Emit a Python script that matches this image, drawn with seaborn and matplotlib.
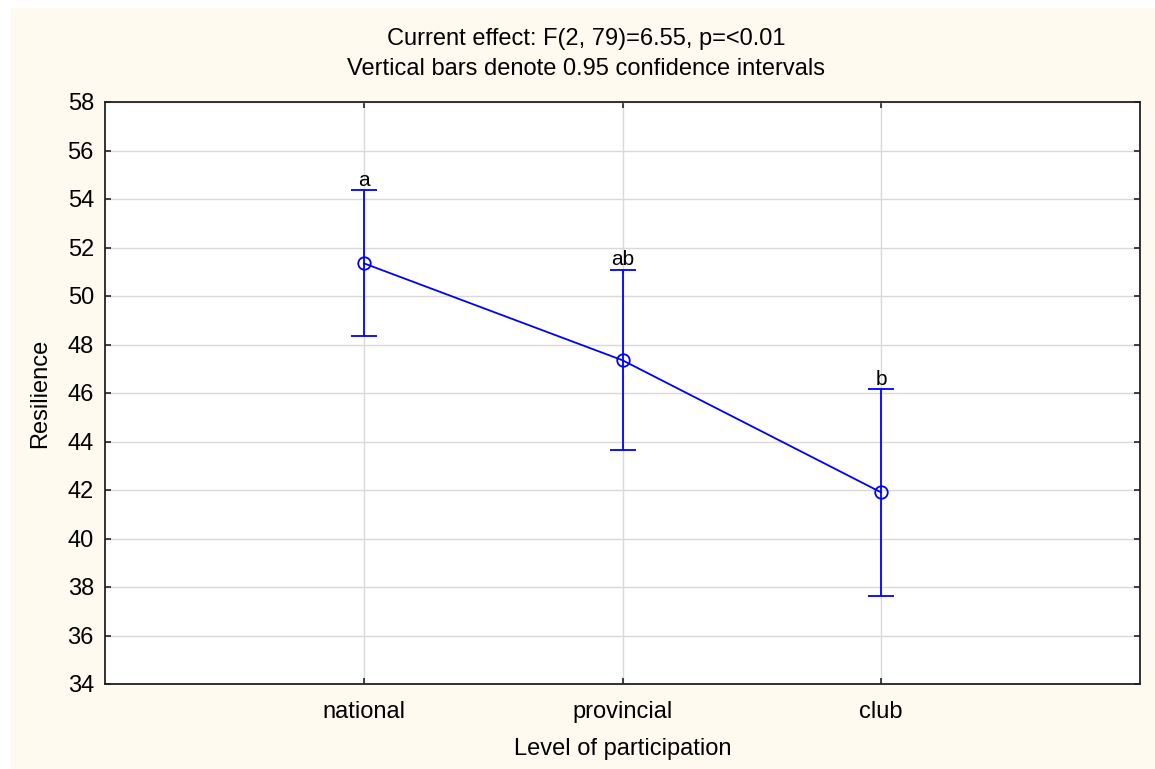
import matplotlib
matplotlib.use('Agg')
import matplotlib.pyplot as plt
import seaborn as sns
from matplotlib.patches import Rectangle

# --- data ---
levels = ['national', 'provincial', 'club']
means = [51.35, 47.35, 41.9]
ci_low = [48.33, 43.65, 37.62]
ci_high = [54.37, 51.08, 46.15]
groups = ['a', 'ab', 'b']
title = 'Current effect: F(2, 79)=6.55, p=<0.01\nVertical bars denote 0.95 confidence intervals'

sns.set_style('white')
plt.rcParams['font.family'] = ['Liberation Sans', 'DejaVu Sans']
plt.rcParams['text.color'] = 'black'
plt.rcParams['axes.labelcolor'] = 'black'
plt.rcParams['xtick.color'] = 'black'
plt.rcParams['ytick.color'] = 'black'

fig = plt.figure(figsize=(11.55, 7.69), dpi=100, facecolor='white')
# cream panel behind the plot
fig.patches.append(Rectangle((11 / 1155, 0), 1 - 11 / 1155, 1 - 8 / 769,
                             transform=fig.transFigure, facecolor='#FFFAF0',
                             edgecolor='none', zorder=-10))
ax = fig.add_axes([105 / 1155, 1 - 684 / 769, (1140 - 105) / 1155, (684 - 102) / 769])
ax.set_facecolor('white')

blue = '#0000FF'
sns.pointplot(x=levels, y=means, errorbar=None, color=blue, markers='o',
              markersize=9, markerfacecolor='none', markeredgewidth=1.3,
              linewidth=1.3, ax=ax, zorder=3)

yerr = [[m - lo for m, lo in zip(means, ci_low)],
        [hi - m for m, hi in zip(means, ci_high)]]
ax.errorbar(range(len(levels)), means, yerr=yerr, fmt='none', ecolor=blue,
            elinewidth=1.3, capsize=9.7, capthick=1.3, zorder=3)

for i, g in enumerate(groups):
    ax.text(i, ci_high[i] + 0.02, g, ha='center', va='bottom', fontsize=15)

ax.set_xlim(-1, 3)
ax.set_ylim(34, 58)
ax.set_yticks(range(34, 59, 2))
ax.grid(True, color='#d9d9d9', linewidth=1)
ax.set_axisbelow(True)

for s in ax.spines.values():
    s.set_visible(True)
    s.set_color('#222222')
    s.set_linewidth(1.3)

ax.tick_params(axis='both', direction='in', length=4, width=1.2, color='#222222',
               labelsize=17, top=True, right=True, bottom=True, left=True,
               labeltop=False, labelright=False)
ax.tick_params(axis='x', pad=12)
ax.tick_params(axis='y', pad=8)

ax.set_xlabel('Level of participation', fontsize=17, labelpad=11)
ax.set_ylabel('Resilience', fontsize=17, labelpad=12)
fig.text(586 / 1155, 1 - 54 / 769, title, ha='center', va='center',
         fontsize=17, linespacing=1.45)

fig.savefig('out.png', dpi=100, facecolor=fig.get_facecolor())
